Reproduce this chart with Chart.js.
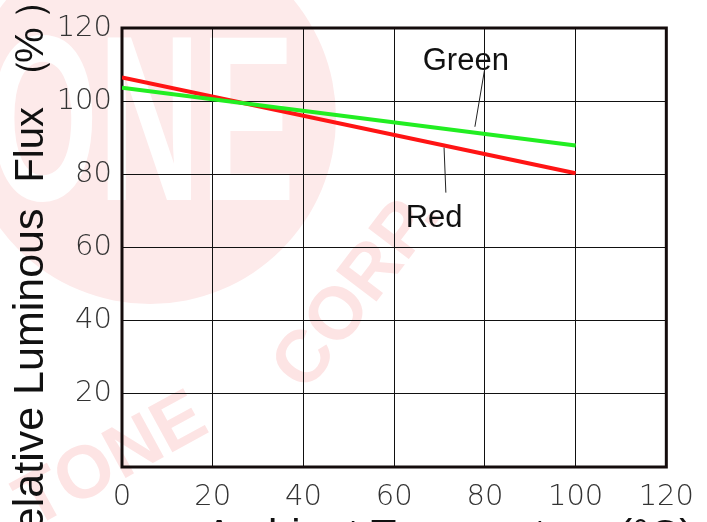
<!DOCTYPE html>
<html>
<head>
<meta charset="utf-8">
<script src="https://cdn.jsdelivr.net/npm/chart.js@4.4.1/dist/chart.umd.min.js"></script>
<style>
  html, body { margin: 0; padding: 0; background: #fff; }
  #wrap { width: 707px; height: 522px; position: relative; }
</style>
</head>
<body>
<div id="wrap"><canvas id="c" width="707" height="522"></canvas></div>
<script>
// ---- data ----
const temperatures = [0, 100];
const greenFlux = [103.7, 87.9];
const redFlux = [106.5, 80.3];
const xTicks = [0, 20, 40, 60, 80, 100, 120];
const yTicks = [20, 40, 60, 80, 100, 120];
const yTitleParts = ['Relative Luminous', 'Flux', '（', '%', '）'];
const xTitle = 'Ambient Temperature (°C)';
const seriesLabels = ['Green', 'Red'];
// label anchor and leader line ends, in data units
const greenLabel = { x: 75.8, y: 110.8, from: [80.0, 109.1], to: [77.8, 93.0] };
const redLabel = { x: 68.8, y: 67.9, from: [71.0, 87.3], to: [71.4, 75.0] };

const watermark = {
  id: 'watermark',
  beforeDraw(chart) {
    const ctx = chart.ctx;
    ctx.save();
    ctx.fillStyle = '#fff';
    ctx.fillRect(0, 0, chart.width, chart.height);
    ctx.fillStyle = '#fdeaea';
    ctx.beginPath();
    ctx.arc(150, 118, 186, 0, Math.PI * 2);
    ctx.fill();
    ctx.save();
    ctx.fillStyle = '#ffffff';
    ctx.font = 'bold 236px "Liberation Sans", Arial, sans-serif';
    ctx.textBaseline = 'alphabetic';
    ctx.translate(-12, 200);
    ctx.scale(0.6, 1);
    ctx.fillText('ONE', 0, 0);
    ctx.restore();
    ctx.fillStyle = '#fde4e4';
    ctx.font = 'bold 74px "Liberation Sans", Arial, sans-serif';
    ctx.textAlign = 'center';
    ctx.textBaseline = 'middle';
    ctx.save();
    ctx.translate(358, 292);
    ctx.rotate(-0.92);
    ctx.fillText('CORP.', 0, 0);
    ctx.restore();
    ctx.save();
    ctx.translate(112, 462);
    ctx.rotate(-0.5);
    ctx.fillText('TONE', 0, 0);
    ctx.restore();
    ctx.restore();
  }
};

function drawRotatedPiece(ctx, text, inkEndY, baseX, font) {
  // text reads bottom-to-top; its ink ends (top) at screen y = inkEndY
  ctx.save();
  ctx.font = font;
  const m = ctx.measureText(text);
  ctx.translate(baseX, 0);
  ctx.rotate(-Math.PI / 2);
  ctx.textAlign = 'left';
  ctx.textBaseline = 'alphabetic';
  ctx.fillText(text, -inkEndY - m.actualBoundingBoxRight, 0);
  ctx.restore();
}

const frameAndTitles = {
  id: 'frameAndTitles',
  beforeDatasetsDraw(chart) {
    const { ctx, chartArea: a } = chart;
    ctx.save();
    ctx.strokeStyle = '#140c0c';
    ctx.lineWidth = 3;
    ctx.strokeRect(a.left, a.top, a.right - a.left, a.bottom - a.top);
    ctx.restore();
  },
  afterDraw(chart) {
    const { ctx } = chart;
    const xs = chart.scales.x, ys = chart.scales.y;
    ctx.save();
    ctx.fillStyle = '#111';
    const ends = [210, 107, 63, 28, 5];
    const sizes = [43, 40, 40, 40, 40];
    yTitleParts.forEach((p, i) =>
      drawRotatedPiece(ctx, p, ends[i], 43, sizes[i] + 'px "Liberation Sans", Arial, sans-serif'));
    // x title (mostly below the visible area)
    ctx.font = '42px "Liberation Sans", Arial, sans-serif';
    ctx.textAlign = 'left';
    ctx.textBaseline = 'alphabetic';
    ctx.fillText(xTitle, 205, 549);
    // series labels with leader lines
    ctx.font = '31px "Liberation Sans", Arial, sans-serif';
    ctx.textAlign = 'center';
    ctx.textBaseline = 'middle';
    ctx.fillText(seriesLabels[0], xs.getPixelForValue(greenLabel.x), ys.getPixelForValue(greenLabel.y));
    ctx.fillText(seriesLabels[1], xs.getPixelForValue(redLabel.x), ys.getPixelForValue(redLabel.y));
    ctx.strokeStyle = '#222';
    ctx.lineWidth = 1;
    [greenLabel, redLabel].forEach(l => {
      ctx.beginPath();
      ctx.moveTo(xs.getPixelForValue(l.from[0]), ys.getPixelForValue(l.from[1]));
      ctx.lineTo(xs.getPixelForValue(l.to[0]), ys.getPixelForValue(l.to[1]));
      ctx.stroke();
    });
    ctx.restore();
  }
};

const tickFont = { family: '"DejaVu Sans", sans-serif', size: 29, weight: 200 };

new Chart(document.getElementById('c'), {
  type: 'line',
  data: {
    datasets: [
      { label: seriesLabels[0], data: temperatures.map((t, i) => ({ x: t, y: greenFlux[i] })),
        borderColor: '#22ee22', borderWidth: 4, pointRadius: 0, fill: false, tension: 0 },
      { label: seriesLabels[1], data: temperatures.map((t, i) => ({ x: t, y: redFlux[i] })),
        borderColor: '#ff1414', borderWidth: 4, pointRadius: 0, fill: false, tension: 0 }
    ]
  },
  options: {
    responsive: false,
    animation: false,
    devicePixelRatio: 1,
    layout: { padding: { left: 0, right: 39, top: 28, bottom: 0 } },
    plugins: { legend: { display: false }, tooltip: { enabled: false } },
    scales: {
      x: {
        type: 'linear', min: 0, max: 120,
        afterBuildTicks: s => { s.ticks = xTicks.map(v => ({ value: v })); },
        afterFit: s => { s.height = 55; },
        grid: { color: '#111', lineWidth: 1, drawTicks: false },
        border: { display: false },
        ticks: { color: '#333', font: tickFont, padding: 13, maxRotation: 0 }
      },
      y: {
        type: 'linear', min: 0, max: 120,
        afterBuildTicks: s => { s.ticks = yTicks.map(v => ({ value: v })); },
        afterFit: s => { s.width = 122; },
        grid: { color: '#111', lineWidth: 1, drawTicks: false },
        border: { display: false },
        ticks: { color: '#333', font: tickFont, padding: 10 }
      }
    }
  },
  plugins: [watermark, frameAndTitles]
});
</script>
</body>
</html>
